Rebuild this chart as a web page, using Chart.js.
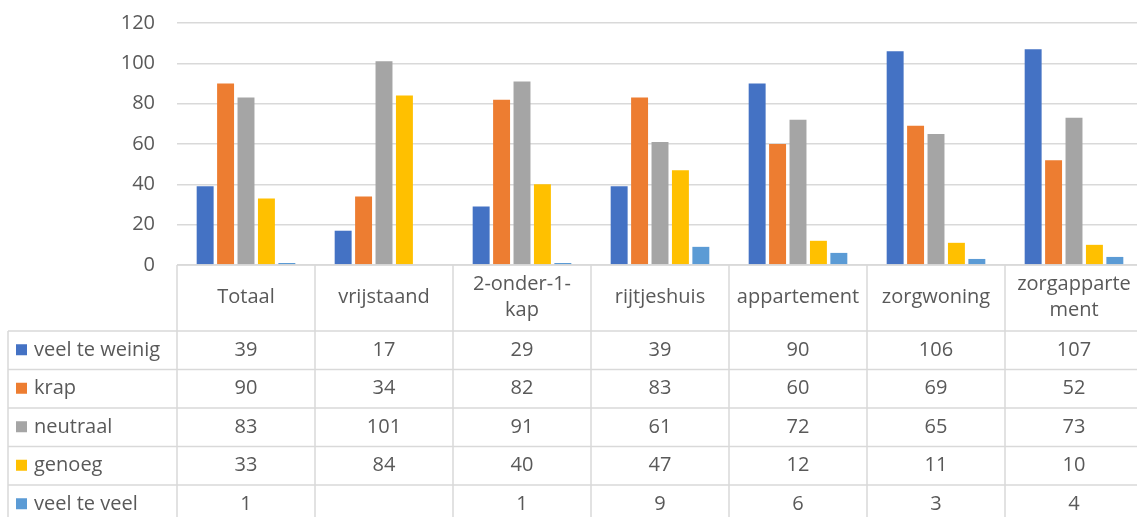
<!DOCTYPE html>
<html>
<head>
<meta charset="utf-8">
<script src="https://cdn.jsdelivr.net/npm/chart.js@4.4.1/dist/chart.umd.min.js"></script>
<style>
  body { margin: 0; overflow: hidden; background: #fff; }
  #wrap { width: 1143px; height: 517px; position: relative; }
</style>
</head>
<body>
<div id="wrap"><canvas id="chart"></canvas></div>
<script>
const categories = ["Totaal", "vrijstaand", "2-onder-1-kap", "rijtjeshuis", "appartement", "zorgwoning", "zorgappartement"];
const headerLines = [["Totaal"], ["vrijstaand"], ["2-onder-1-", "kap"], ["rijtjeshuis"], ["appartement"], ["zorgwoning"], ["zorgapparte", "ment"]];
const seriesNames = ["veel te weinig", "krap", "neutraal", "genoeg", "veel te veel"];
const veelTeWeinig = [39, 17, 29, 39, 90, 106, 107];
const krap = [90, 34, 82, 83, 60, 69, 52];
const neutraal = [83, 101, 91, 61, 72, 65, 73];
const genoeg = [33, 84, 40, 47, 12, 11, 10];
const veelTeVeel = [1, null, 1, 9, 6, 3, 4];
const yTicks = [0, 20, 40, 60, 80, 100, 120];

const colors = ["#4472C4", "#ED7D31", "#A5A5A5", "#FFC000", "#5B9BD5"];
const allSeries = [veelTeWeinig, krap, neutraal, genoeg, veelTeVeel];

const FONT = '"Open Sans", sans-serif';
const TEXT = "#595959";
const LINE = "#d9d9d9";

// data table under the plot, laid out from the x scale
const tablePlugin = {
  id: "dataTable",
  afterDraw(chart) {
    const ctx = chart.ctx;
    const x = chart.scales.x;
    const area = chart.chartArea;
    const colW = x.getPixelForValue(1) - x.getPixelForValue(0);
    const left = area.left;
    const right = area.right;
    const top = area.bottom;
    const headH = 66;
    const rowH = 38.5;
    const legendLeft = 8;
    const bottom = top + headH + rowH * seriesNames.length;

    ctx.save();
    ctx.strokeStyle = LINE;
    ctx.lineWidth = 1.5;
    ctx.beginPath();
    ctx.moveTo(left, top); ctx.lineTo(right, top);
    for (let r = 0; r <= seriesNames.length; r++) {
      const y = top + headH + r * rowH;
      ctx.moveTo(legendLeft, y); ctx.lineTo(right, y);
    }
    ctx.moveTo(legendLeft, top + headH); ctx.lineTo(legendLeft, bottom);
    for (let c = 0; c <= categories.length; c++) {
      const xx = left + c * colW;
      ctx.moveTo(xx, top); ctx.lineTo(xx, bottom);
    }
    ctx.stroke();

    ctx.fillStyle = TEXT;
    ctx.font = "20px " + FONT;
    ctx.textAlign = "center";
    ctx.textBaseline = "middle";
    headerLines.forEach((lines, i) => {
      const cx = x.getPixelForValue(i);
      const cy = top + headH / 2 - 1;
      const lh = 26;
      lines.forEach((t, k) => {
        ctx.fillText(t, cx, cy + (k - (lines.length - 1) / 2) * lh);
      });
    });

    seriesNames.forEach((name, r) => {
      const cy = top + headH + r * rowH + rowH / 2;
      ctx.fillStyle = colors[r];
      ctx.fillRect(16, cy - 6, 11, 11);
      ctx.fillStyle = TEXT;
      ctx.textAlign = "left";
      ctx.fillText(name, 34, cy);
      ctx.textAlign = "center";
      allSeries[r].forEach((v, i) => {
        if (v !== null) ctx.fillText(String(v), x.getPixelForValue(i), cy);
      });
    });
    ctx.restore();
  }
};

new Chart(document.getElementById("chart"), {
  type: "bar",
  data: {
    labels: categories,
    datasets: seriesNames.map((name, i) => ({
      label: name,
      data: allSeries[i],
      backgroundColor: colors[i],
      categoryPercentage: 0.74,
      barPercentage: 0.83
    }))
  },
  options: {
    responsive: true,
    maintainAspectRatio: false,
    animation: false,
    layout: { padding: { top: 23, right: 0, bottom: 252, left: 0 } },
    plugins: {
      legend: { display: false },
      tooltip: { enabled: false }
    },
    scales: {
      x: { display: false },
      y: {
        min: 0,
        max: 120,
        afterBuildTicks: (s) => { s.ticks = yTicks.map((v) => ({ value: v })); },
        afterFit: (s) => { s.width = 177; s.paddingTop = 0; s.paddingBottom = 0; },
        border: { display: false },
        grid: { color: LINE, lineWidth: 1.5, drawTicks: false },
        ticks: { color: TEXT, padding: 22, font: { family: FONT, size: 20 } }
      }
    }
  },
  plugins: [tablePlugin]
});
</script>
</body>
</html>
